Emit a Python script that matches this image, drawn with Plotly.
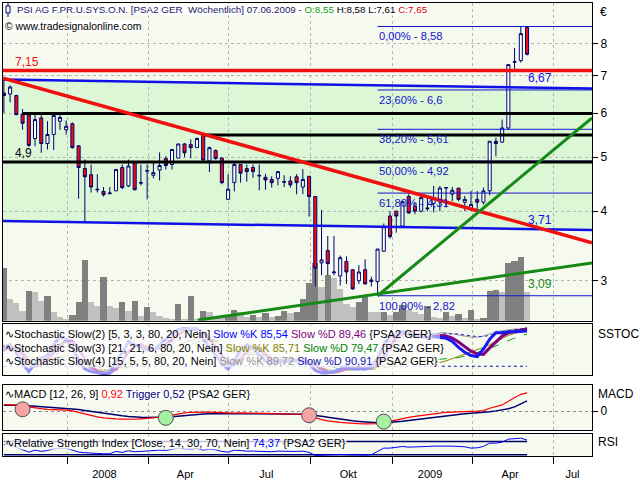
import math
import pandas as pd
import plotly.graph_objects as go

W, H = 640, 480

# ---------------- data ----------------
dates = pd.date_range("2007-10-22", periods=85, freq="7D")

opens = [6.52, 6.49, 6.45, 5.97, 5.95, 5.40, 5.88, 5.29, 5.49, 5.80,
         5.60, 5.74, 5.24, 4.77, 4.65, 4.38, 4.34, 4.30, 4.35, 4.79,
         4.44, 4.89, 4.49, 4.72, 4.64, 4.74, 4.97, 4.85, 4.98, 5.28,
         5.27, 5.20, 5.47, 4.92, 5.14, 4.98, 4.20, 4.50, 4.85, 4.77,
         4.79, 4.64, 4.60, 4.56, 4.58, 4.52, 4.53, 4.61, 4.42, 4.62,
         4.25, 3.23, 3.40, 3.10, 3.06, 3.25, 3.14, 3.00, 3.14, 3.01,
         2.99, 3.39, 3.92, 4.00, 3.76, 4.25, 4.08, 4.00, 4.04, 4.13,
         4.17, 4.40, 4.29, 4.40, 4.15, 4.04, 4.20, 4.15, 4.35, 5.34,
         5.32, 5.64, 7.40, 7.45, 8.55]
highs = [6.87, 6.73, 6.47, 6.10, 5.96, 5.95, 5.95, 5.80, 5.97, 5.97,
         5.82, 5.77, 5.25, 4.95, 4.85, 4.66, 4.42, 4.42, 4.76, 4.85,
         4.95, 4.90, 4.85, 4.85, 4.88, 5.10, 5.02, 5.16, 5.28, 5.30,
         5.38, 5.42, 5.50, 5.22, 5.16, 5.00, 4.66, 4.88, 4.86, 4.85,
         4.85, 4.85, 4.67, 4.62, 4.72, 4.64, 4.62, 4.66, 4.76, 4.62,
         4.25, 4.02, 3.61, 3.61, 3.33, 3.32, 3.15, 3.20, 3.28, 3.05,
         3.42, 3.80, 4.00, 4.00, 4.17, 4.29, 4.15, 4.27, 4.23, 4.44,
         4.44, 4.42, 4.42, 4.40, 4.26, 4.35, 4.35, 4.41, 5.34, 5.42,
         5.84, 7.33, 7.85, 8.58, 8.58]
lows = [6.00, 6.27, 5.95, 5.60, 5.22, 5.23, 5.09, 5.16, 5.15, 5.60,
        5.49, 5.18, 4.21, 3.84, 4.32, 4.32, 4.25, 4.29, 4.35, 4.38,
        4.42, 4.36, 4.45, 4.20, 4.58, 4.54, 4.75, 4.75, 4.98, 5.00,
        4.98, 5.20, 4.92, 4.70, 4.95, 4.47, 4.19, 4.34, 4.50, 4.52,
        4.59, 4.36, 4.37, 4.41, 4.45, 4.42, 4.41, 4.29, 4.29, 3.91,
        2.93, 3.07, 3.07, 3.07, 2.94, 2.96, 2.89, 2.96, 2.96, 2.93,
        2.82, 3.38, 3.57, 3.66, 3.74, 3.96, 3.95, 3.98, 4.00, 3.98,
        4.00, 4.06, 4.17, 4.17, 4.00, 4.00, 4.03, 4.11, 4.27, 5.02,
        5.30, 5.60, 7.18, 7.39, 7.61]
closes = [6.45, 6.68, 5.96, 5.75, 5.25, 5.84, 5.29, 5.49, 5.94, 5.89,
          5.68, 5.20, 4.79, 4.61, 4.42, 4.37, 4.28, 4.31, 4.75, 4.41,
          4.82, 4.37, 4.50, 4.73, 4.69, 4.83, 4.83, 5.16, 5.28, 5.09,
          5.20, 5.40, 4.94, 5.20, 4.97, 4.50, 4.38, 4.85, 4.68, 4.71,
          4.71, 4.63, 4.55, 4.50, 4.71, 4.51, 4.46, 4.50, 4.56, 4.25,
          3.16, 3.27, 3.22, 3.11, 3.30, 3.11, 2.90, 3.11, 2.96, 2.99,
          3.42, 3.75, 3.60, 3.92, 4.16, 3.97, 4.00, 4.23, 4.05, 4.23,
          4.40, 4.41, 4.36, 4.20, 4.20, 4.11, 4.15, 4.35, 5.34, 5.29,
          5.64, 7.33, 7.42, 8.33, 7.65]
volume = [158, 65, 53, 30, 87, 85, 60, 75, 26, 11,
          6, 18, 57, 180, 55, 45, 129, 43, 38, 57,
          28, 60, 13, 41, 25, 13, 9, 6, 51, 6,
          73, 3, 30, 25, 9, 7, 17, 32, 27, 11,
          17, 11, 23, 10, 15, 30, 23, 25, 65, 112,
          172, 100, 136, 128, 95, 51, 40, 55, 71, 25,
          25, 27, 18, 25, 48, 33, 25, 20, 44, 12,
          8, 25, 13, 21, 7, 32, 5, 9, 88, 92,
          86, 171, 177, 190, 86]

x_left, x_right = "2007-10-21", "2009-08-13"

channel_upper = [6.89, 6.64]
channel_lower = [3.84, 3.70]
red_level = 7.15
red_trend = [6.93, 3.51]
black_levels = [5.99, 5.48, 4.90]
black_start_idx = [3, 32, None]
green_steep = [2.82, 5.88]
green_flat_start = "2008-05-27"
green_flat = [2.55, 3.23]
fib_start_idx = 60
fib_levels = [8.58, 6.60, 5.61, 4.92, 4.31, 2.82]
fib_labels = ["0,00% - 8,58", "23,60% - 6,6", "38,20% - 5,61",
              "50,00% - 4,92", "61,80% - 4,31", "100,00% - 2,82"]
end_labels = ["6,67", "3,71", "3,09"]
end_values = [6.67, 3.71, 3.09]

stoch2_k = [55, 60, 45, 25, 10, 25, 35, 40, 60, 75, 70, 55, 30, 15, 10, 8, 6, 8, 30, 45,
            65, 60, 55, 50, 50, 60, 70, 80, 88, 90, 88, 88, 70, 55, 40, 25, 15, 30, 50, 60,
            55, 40, 30, 25, 30, 30, 30, 30, 30, 25, 12, 8, 8, 10, 15, 20, 15, 15, 15, 20,
            35, 60, 75, 80, 85, 80, 75, 75, 72, 75, 74, 72, 66, 55, 46, 40, 38, 52, 70, 82,
            82, 84, 84, 85, 85.54]
stoch2_d = [50, 55, 53, 43, 27, 20, 23, 33, 45, 58, 68, 67, 52, 33, 18, 11, 8, 7, 15, 28,
            47, 57, 60, 55, 52, 53, 60, 70, 79, 86, 89, 89, 82, 71, 55, 40, 27, 23, 32, 47,
            55, 52, 42, 32, 28, 28, 30, 30, 30, 28, 22, 15, 9, 9, 11, 15, 17, 17, 15, 17,
            23, 38, 57, 72, 80, 82, 80, 77, 74, 76, 77, 76, 72, 65, 56, 48, 43, 42, 54, 66,
            76, 82, 85, 87, 89.46]
stoch3_k = [60, 58, 52, 45, 38, 35, 33, 33, 35, 38, 40, 38, 32, 25, 18, 14, 12, 12, 15, 20,
            25, 30, 33, 36, 38, 42, 46, 52, 58, 64, 68, 72, 72, 70, 65, 58, 50, 45, 43, 42,
            42, 40, 38, 36, 35, 35, 35, 34, 33, 30, 24, 18, 14, 12, 12, 13, 13, 14, 14, 15,
            18, 22, 25, 27, 28, 29, 30, 30, 29, 28, 27, 30, 34, 38, 42, 46, 50, 55, 60, 66,
            72, 77, 81, 84, 85.71]
stoch3_d = [58, 58, 55, 50, 45, 40, 36, 34, 34, 35, 37, 38, 36, 31, 25, 19, 15, 13, 13, 15,
            19, 24, 28, 32, 35, 38, 41, 45, 50, 55, 60, 65, 69, 70, 69, 65, 59, 53, 48, 45,
            43, 42, 40, 38, 37, 36, 35, 35, 34, 33, 30, 26, 21, 17, 14, 13, 13, 13, 14, 14,
            15, 17, 20, 23, 25, 27, 29, 30, 31, 32, 33, 33, 34, 36, 39, 42, 45, 49, 53, 58,
            63, 68, 73, 77, 79.47]
stoch4_k = [50, 55, 48, 35, 20, 25, 30, 35, 50, 62, 65, 55, 38, 22, 14, 10, 8, 9, 20, 32,
            48, 55, 55, 52, 50, 55, 62, 72, 80, 85, 86, 86, 76, 62, 48, 33, 22, 26, 40, 52,
            55, 48, 38, 30, 30, 30, 30, 30, 30, 27, 16, 10, 8, 9, 13, 17, 16, 15, 15, 18,
            30, 52, 68, 76, 81, 82, 80, 80, 80, 80, 82, 82, 80, 78, 76, 74, 74, 76, 80, 84,
            86, 88, 89, 89, 89.72]
stoch4_d = [48, 50, 52, 46, 34, 27, 25, 30, 37, 47, 57, 60, 55, 44, 30, 20, 14, 10, 12, 19,
            30, 42, 51, 54, 53, 53, 55, 61, 68, 75, 81, 84, 83, 77, 67, 55, 42, 32, 31, 37,
            46, 50, 47, 40, 34, 31, 30, 30, 30, 29, 24, 18, 12, 10, 11, 14, 15, 16, 15, 16,
            21, 33, 48, 62, 73, 78, 80, 80, 80, 80, 81, 81, 81, 80, 78, 76, 75, 75, 77, 80,
            83, 86, 88, 89, 90.91]
stoch_level = 20

macd = [0.33, 0.33, 0.31, 0.26, 0.21, 0.17, 0.13, 0.10, 0.09, 0.08,
        0.06, 0.02, -0.06, -0.15, -0.22, -0.28, -0.33, -0.37, -0.38, -0.39,
        -0.40, -0.40, -0.38, -0.36, -0.33, -0.30, -0.26, -0.20, -0.13, -0.08,
        -0.05, -0.03, -0.04, -0.04, -0.05, -0.08, -0.10, -0.09, -0.08, -0.08,
        -0.08, -0.10, -0.11, -0.12, -0.12, -0.13, -0.14, -0.15, -0.16, -0.19,
        -0.32, -0.42, -0.48, -0.53, -0.56, -0.58, -0.61, -0.62, -0.63, -0.64,
        -0.62, -0.57, -0.50, -0.44, -0.37, -0.31, -0.26, -0.21, -0.17, -0.13,
        -0.09, -0.05, -0.03, -0.01, 0.0, 0.0, 0.01, 0.03, 0.15, 0.22,
        0.32, 0.50, 0.68, 0.85, 0.92]
trigger = [0.30, 0.31, 0.31, 0.30, 0.28, 0.26, 0.23, 0.21, 0.19, 0.17,
           0.15, 0.12, 0.09, 0.04, -0.01, -0.06, -0.11, -0.16, -0.20, -0.23,
           -0.26, -0.29, -0.30, -0.31, -0.31, -0.31, -0.29, -0.27, -0.24, -0.21,
           -0.18, -0.16, -0.14, -0.13, -0.12, -0.12, -0.12, -0.12, -0.12, -0.12,
           -0.12, -0.12, -0.12, -0.12, -0.13, -0.13, -0.14, -0.14, -0.15, -0.17,
           -0.20, -0.25, -0.30, -0.35, -0.40, -0.44, -0.48, -0.51, -0.54, -0.56,
           -0.58, -0.58, -0.56, -0.54, -0.50, -0.46, -0.42, -0.38, -0.34, -0.30,
           -0.26, -0.22, -0.19, -0.16, -0.13, -0.10, -0.08, -0.06, -0.02, 0.02,
           0.07, 0.13, 0.22, 0.36, 0.52]
cross_idx = [3, 26, 49, 61]
cross_vals = [0.10, -0.33, -0.20, -0.52]
cross_kind = ["down", "up", "down", "up"]

rsi = [60, 62, 52, 45, 38, 44, 40, 43, 48, 50, 49, 44, 38, 36, 34, 34, 33, 33, 40, 37,
       42, 39, 40, 42, 42, 44, 43, 47, 50, 48, 47, 49, 44, 47, 45, 40, 38, 44, 42, 41,
       41, 40, 39, 39, 41, 40, 39, 40, 41, 37, 28, 29, 29, 29, 31, 30, 29, 30, 29, 30,
       40, 50, 50, 52, 55, 53, 53, 55, 55, 56, 57, 56, 56, 55, 54, 50, 51, 55, 65, 65,
       68, 77, 78, 80, 74.37]
rsi_levels = [30, 70]

quarter_starts = ["2008-01-01", "2008-04-01", "2008-07-01", "2008-10-01",
                  "2009-01-01", "2009-04-01", "2009-07-01"]
label_dates = ["2008-02-12", "2008-05-13", "2008-08-12", "2008-11-12",
               "2009-02-12", "2009-05-13", "2009-07-22"]
label_text = ["2008", "Apr", "Jul", "Okt", "2009", "Apr", "Jul"]
price_ticks = [3, 4, 5, 6, 7, 8]

# ---------------- style ----------------
FONT = "Liberation Sans"
CREAM = "#f6f9ee"
GREEN_BAND = "#dcf7d5"
GRID = "#b4b4b4"
NAVY = "#000070"
RED = "#f01010"
BLUE = "#1010e8"
DGREEN = "#168a16"
FIBBLUE = "#1414d0"


def P(x):
    return x / W


def Q(y):
    return 1 - y / H


XD = [P(3), P(592)]
YD_MAIN = [Q(322), Q(3)]
YD_STO = [Q(377), Q(325)]
YD_MACD = [Q(432), Q(387)]
YD_RSI = [Q(458), Q(436)]


def fmt(v):
    return f"{v:.2f}".replace(".", ",")


fig = go.Figure()

# volume (base subplot, drawn first)
vol_colors = ["#808080" if (i == 0 or v > volume[i - 1]) else "#c0c0c0"
              for i, v in enumerate(volume)]
fig.add_trace(go.Bar(x=dates, y=volume, marker=dict(color=vol_colors, line=dict(width=0)),
                     xaxis="x", yaxis="y"))

# candles (overlay price axis)
fig.add_trace(go.Candlestick(
    x=dates, open=opens, high=highs, low=lows, close=closes,
    increasing=dict(line=dict(color=NAVY, width=1), fillcolor="white"),
    decreasing=dict(line=dict(color=NAVY, width=1), fillcolor=RED),
    whiskerwidth=0, xaxis="x", yaxis="y5"))


def line(x, y, color, width, dash="solid", xa="x", ya="y5"):
    fig.add_trace(go.Scatter(x=x, y=y, mode="lines", xaxis=xa, yaxis=ya,
                             line=dict(color=color, width=width, dash=dash)))


# fibonacci lines
for lv in fib_levels:
    line([dates[fib_start_idx], x_right], [lv, lv], FIBBLUE, 1)
# channel
line([x_left, x_right], channel_upper, BLUE, 2.5)
line([x_left, x_right], channel_lower, BLUE, 2.5)
# black horizontals
for lv, si in zip(black_levels, black_start_idx):
    line([x_left if si is None else dates[si], x_right], [lv, lv], "black", 3)
# red level and trend
line([x_left, x_right], [red_level, red_level], RED, 3.5)
line([x_left, x_right], red_trend, RED, 3.5)
# green trends
line([dates[fib_start_idx], x_right], green_steep, DGREEN, 3)
line([green_flat_start, x_right], green_flat, DGREEN, 3)

# stochastics
line(dates, [stoch_level] * len(dates), "#1010c0", 1.2, "dot", "x2", "y2")
line(dates, stoch4_k, "#9a9a9a", 1, "solid", "x2", "y2")
line(dates, stoch4_d, "#2020c0", 1, "dot", "x2", "y2")
line(dates, stoch3_k, "#8a8a00", 1, "solid", "x2", "y2")
line(dates, stoch3_d, "#10a010", 1, "dash", "x2", "y2")
line(dates, stoch2_d, "#800080", 3, "solid", "x2", "y2")
line(dates, stoch2_k, "#1818f0", 3, "solid", "x2", "y2")

# MACD
line(dates, trigger, NAVY, 1.5, "solid", "x3", "y3")
line(dates, macd, "#ff0000", 1.2, "solid", "x3", "y3")
fig.add_trace(go.Scatter(
    x=[dates[i] for i in cross_idx], y=cross_vals, mode="markers", xaxis="x3", yaxis="y3",
    marker=dict(size=15, color=["#f4a4a4" if k == "down" else "#a6f0a6" for k in cross_kind],
                line=dict(color="#505050", width=1))))

# RSI
for lv in rsi_levels:
    line([dates[0], dates[-1]], [lv, lv], NAVY, 1.5, "solid", "x4", "y4")
line(dates, rsi, "#0000ff", 1, "solid", "x4", "y4")

# ---------------- axes ----------------
common_x = dict(range=[x_left, x_right], domain=XD, showticklabels=False, ticks="",
                tickvals=quarter_starts, showgrid=True, gridcolor=GRID, griddash="dot",
                gridwidth=1, showline=True, linecolor="black", linewidth=1, mirror=True,
                zeroline=False, fixedrange=True)
rsi_x = dict(common_x)
rsi_x.update(tickvals=label_dates, ticktext=label_text, showticklabels=True, showgrid=False,
             tickfont=dict(family=FONT, size=11, color="black"), ticklabelstandoff=8,
             minor=dict(tickvals=quarter_starts, ticks="outside", ticklen=7, tickcolor="black",
                        showgrid=True, gridcolor=GRID, griddash="dot", gridwidth=1))

ybase = dict(showline=True, linecolor="black", linewidth=1, mirror=True, zeroline=False,
             fixedrange=True, side="right", tickfont=dict(family=FONT, size=12, color="black"))

fig.update_layout(
    width=W, height=H, margin=dict(l=0, r=0, t=0, b=0),
    paper_bgcolor="white", plot_bgcolor=CREAM, bargap=0, showlegend=False,
    hovermode=False,
    xaxis=dict(common_x, anchor="y", rangeslider=dict(visible=False)),
    xaxis2=dict(common_x, anchor="y2"),
    xaxis3=dict(common_x, anchor="y3"),
    xaxis4=dict(rsi_x, anchor="y4"),
    yaxis=dict(domain=YD_MAIN, range=[0, 947], visible=False, fixedrange=True),
    yaxis5=dict(ybase, overlaying="y", anchor="x", type="log",
                range=[math.log10(2.544), math.log10(9.455)],
                tickvals=price_ticks, ticktext=[str(t) for t in price_ticks],
                ticks="outside", ticklen=5, tickcolor="black",
                showgrid=True, gridcolor=GRID, griddash="dot"),
    yaxis2=dict(ybase, domain=YD_STO, anchor="x2", range=[3, 99], showticklabels=False,
                ticks="", showgrid=False),
    yaxis3=dict(ybase, domain=YD_MACD, anchor="x3", range=[-0.95, 1.3], tickvals=[0],
                ticktext=["0"], ticks="outside", ticklen=5, tickcolor="black",
                showgrid=True, gridcolor="#909090", griddash="dot"),
    yaxis4=dict(ybase, domain=YD_RSI, anchor="x4", range=[26, 92], showticklabels=False,
                ticks="", showgrid=False),
)

# channel fill (below grid)
fig.add_shape(type="path", xref="x", yref="y5", layer="below",
              path=(f"M {x_left},{channel_upper[0]} L {x_right},{channel_upper[1]} "
                    f"L {x_right},{channel_lower[1]} L {x_left},{channel_lower[0]} Z"),
              fillcolor=GREEN_BAND, line=dict(width=0))

# wash over the stochastic history behind the legend texts
fig.add_shape(type="rect", xref="paper", yref="paper", layer="above",
              x0=P(4), x1=P(440), y0=Q(376), y1=Q(326),
              fillcolor="rgba(255,255,255,0.55)", line=dict(width=0))

# header icon
fig.add_shape(type="line", xref="paper", yref="paper", x0=P(8), x1=P(8), y0=Q(3), y1=Q(17),
              line=dict(color=NAVY, width=1))
fig.add_shape(type="rect", xref="paper", yref="paper", x0=P(6), x1=P(10), y0=Q(6), y1=Q(13),
              line=dict(color=NAVY, width=1), fillcolor="white")

ann = []


def A(text, x, y, size=11, color="black", xanchor="left", yanchor="middle",
      xref="paper", yref="paper", bg=None, **kw):
    d = dict(text=text, x=x, y=y, xref=xref, yref=yref, xanchor=xanchor, yanchor=yanchor,
             showarrow=False, font=dict(family=FONT, size=size, color=color), borderpad=0)
    if bg:
        d["bgcolor"] = bg
    d.update(kw)
    ann.append(d)


head = (f"PSI AG F.PR.U.SYS.O.N. [PSA2 GER&nbsp; Wöchentlich] 07.06.2009 - "
        f"<span style='color:#10a010'>O:{fmt(opens[-1])}</span> "
        f"<span style='color:black'>H:{fmt(highs[-1])} L:{fmt(lows[-1])}</span> "
        f"<span style='color:#e00000'>C:{fmt(closes[-1])}</span>")
A(head, P(16), Q(10), size=9.8, color="#18186a", bg="rgba(255,255,255,0.85)")
A("© www.tradesignalonline.com", P(4), Q(27), size=10.4, bg="rgba(255,255,255,0.85)")
A("€", P(599), Q(12), size=12)

# price labels
A("7,15", "2007-11-02", math.log10(red_level), size=12, color=RED, yanchor="bottom",
  xref="x", yref="y5", yshift=1)
A("4,9", "2007-11-02", math.log10(black_levels[2]), size=12, color="black", yanchor="bottom",
  xref="x", yref="y5", yshift=1)
for lv, lab in zip(fib_levels, fib_labels):
    A(lab, dates[fib_start_idx], math.log10(lv), size=11.2, color=FIBBLUE, yanchor="top",
      xref="x", yref="y5", yshift=-3)
for lab, v, c, ya in zip(end_labels, end_values, [BLUE, BLUE, DGREEN],
                         ["bottom", "bottom", "top"]):
    A(lab, dates[-1], math.log10(v), size=12, color=c, yanchor=ya, xref="x", yref="y5",
      yshift=(1 if ya == "bottom" else -2))

# indicator labels
BG = "rgba(255,255,255,0.6)"
W_ = "∿"
A(f"{W_}Stochastic Slow(2) [5, 3, 3, 80, 20, Nein] "
  f"<span style='color:#0000ff'>Slow %K {fmt(stoch2_k[-1])}</span> "
  f"<span style='color:#800080'>Slow %D {fmt(stoch2_d[-1])}</span> {{PSA2 GER}}",
  P(4), Q(335), size=11, bg=BG)
A(f"{W_}Stochastic Slow(3) [21, 21, 6, 80, 20, Nein] "
  f"<span style='color:#808000'>Slow %K {fmt(stoch3_k[-1])}</span> "
  f"<span style='color:#008000'>Slow %D {fmt(stoch3_d[-1])}</span> {{PSA2 GER}}",
  P(4), Q(349), size=11, bg=BG)
A(f"{W_}Stochastic Slow(4) [15, 5, 5, 80, 20, Nein] "
  f"<span style='color:#909090'>Slow %K {fmt(stoch4_k[-1])}</span> "
  f"<span style='color:#1010b0'>Slow %D {fmt(stoch4_d[-1])}</span> {{PSA2 GER}}",
  P(4), Q(363), size=11, bg=BG)
A(f"{W_}MACD [12, 26, 9] <span style='color:#ff0000'>{fmt(macd[-1])}</span> "
  f"<span style='color:#000080'>Trigger {fmt(trigger[-1])}</span> {{PSA2 GER}}",
  P(4), Q(396), size=11, bg="rgba(255,255,255,0.8)")
A(f"{W_}Relative Strength Index [Close, 14, 30, 70, Nein] "
  f"<span style='color:#0000ff'>{fmt(rsi[-1])}</span> {{PSA2 GER}}",
  P(4), Q(445), size=11, bg="rgba(255,255,255,0.75)")

A("SSTOC", P(597), Q(335), size=12)
A("MACD", P(597), Q(396), size=12)
A("RSI", P(597), Q(444), size=12)

fig.update_layout(annotations=ann)

fig.write_html("out.html", config={"displayModeBar": False},
               post_script="document.body.style.margin='0px';")
